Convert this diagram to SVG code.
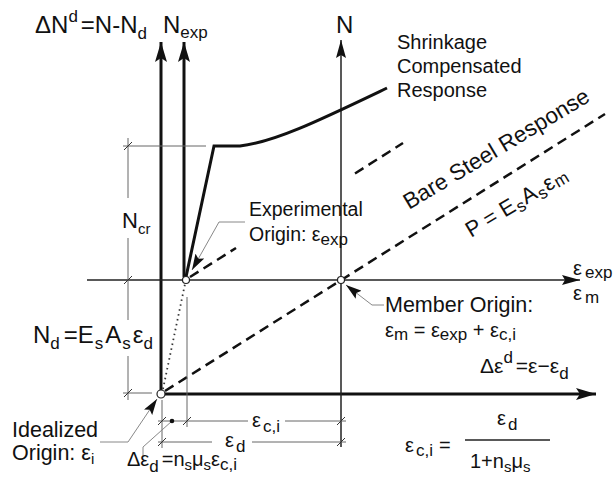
<svg xmlns="http://www.w3.org/2000/svg" width="615" height="487" viewBox="0 0 615 487">
<defs>
<style>
text{font-family:"Liberation Sans",Arial,sans-serif;fill:#111}
.t{font-size:20px}
.big{font-size:24px}
.sb{font-size:17px}
.sm{font-size:15px}
.thick{stroke:#111;stroke-width:3;fill:none}
.thin{stroke:#222;stroke-width:1.5;fill:none}
.dim{stroke:#666;stroke-width:1;fill:none}
.lead{stroke:#888;stroke-width:1;fill:none}
.dash{stroke:#111;stroke-width:2.5;stroke-dasharray:10 6;fill:none}
.dot{stroke:#333;stroke-width:1.8;stroke-dasharray:1.5 3.5;fill:none}
.tick{stroke:#333;stroke-width:1}
.origin{fill:#fff;stroke:#222;stroke-width:1.2}
</style>
<marker id="axB" viewBox="0 0 20 12" refX="20" refY="6" markerWidth="20" markerHeight="12" markerUnits="userSpaceOnUse" orient="auto"><path d="M0,0 L20,6 L0,12 L4,6 Z" fill="#111"/></marker>
<marker id="axS" viewBox="0 0 18 10" refX="18" refY="5" markerWidth="18" markerHeight="10" markerUnits="userSpaceOnUse" orient="auto"><path d="M0,0 L18,5 L0,10 L3,5 Z" fill="#111"/></marker>
<marker id="ld" viewBox="0 0 16 10" refX="16" refY="5" markerWidth="16" markerHeight="10" markerUnits="userSpaceOnUse" orient="auto"><path d="M0,0 L16,5 L0,10 L3,5 Z" fill="#111"/></marker>
</defs>
<rect width="615" height="487" fill="#fff"/>

<g id="connectors">
  <path class="thick" d="M161,394 L161,42" marker-end="url(#axB)"/>
  <path class="thick" d="M184,277 L184,42" marker-end="url(#axB)"/>
  <path class="thick" d="M161,394 L596,394" marker-end="url(#axB)"/>
  <path class="thin" d="M87,280 L580,280" marker-end="url(#axS)"/>
  <path class="thin" d="M341,447 L341,40" marker-end="url(#axS)"/>
  <path class="thick" d="M186,277 L214,146 L240,146 C275,142 320,120 387,88"/>
  <path class="dash" d="M165,391 L605,114"/>
  <path class="dash" d="M190,277 L236,248"/>
  <path class="dash" d="M355,173.5 L403,143"/>
  <path class="dot" d="M163,389 L185,284"/>
  <path class="dim" d="M128,138 L128,198 M128,238 L128,320 M128,356 L128,400"/>
  <path class="dim" d="M123,146 L206,146"/>
  <path class="dim" d="M123,393 L152,393"/>
  <path class="dim" d="M187,297 L187,427"/>
  <path class="dim" d="M162,400 L162,448"/>
  <path class="dim" d="M158,421 L248,421 M285,421 L346,421"/>
  <path class="dim" d="M158,442 L212,442 M252,442 L346,442"/>
  <path class="tick" d="M124,150 L132,142 M124,284 L132,276 M124,397 L132,389 M158,425 L166,417 M183,425 L191,417 M337,425 L345,417 M158,446 L166,438 M337,446 L345,438"/>
  <path class="lead" d="M245,222 L219,222 L192,270" marker-end="url(#ld)"/>
  <path class="lead" d="M384,305 L372,305 L346,285" marker-end="url(#ld)"/>
  <path class="lead" d="M100,442 L128,442 L157,399" marker-end="url(#ld)"/>
  <path class="lead" d="M143,456 L143,447 L172,421"/>
  <circle cx="172" cy="421" r="2.3" fill="#111"/>
</g>

<g id="origin-experimental"><circle class="origin" cx="186" cy="280" r="3.5"/></g>
<g id="origin-member"><circle class="origin" cx="341" cy="280" r="3.5"/></g>
<g id="origin-idealized"><circle class="origin" cx="161" cy="394" r="4"/></g>

<g id="axis-labels">
  <text class="big" x="35" y="33">ΔN<tspan class="sb" dy="-11">d</tspan><tspan dx="3" dy="11">=N-N</tspan><tspan class="sb" dy="6">d</tspan></text>
  <text class="big" x="163" y="33">N<tspan class="sb" dy="5">exp</tspan></text>
  <text class="big" x="336" y="33">N</text>
  <text class="t" x="573" y="275">ε<tspan class="sb" dx="3" dy="3">exp</tspan></text>
  <text class="t" x="573" y="300">ε<tspan class="sb" dx="3" dy="3">m</tspan></text>
</g>

<g id="shrinkage-label">
  <text class="t" x="397" y="49">Shrinkage</text>
  <text class="t" x="397" y="73">Compensated</text>
  <text class="t" x="397" y="97">Response</text>
</g>

<g id="bare-steel-label">
  <text style="font-size:22.5px" transform="translate(409,210) rotate(-31)">Bare Steel Response</text>
  <text style="font-size:22px" transform="translate(471,238) rotate(-31)">P = E<tspan class="sb" dx="1" dy="4">s</tspan><tspan dx="1" dy="-4">A</tspan><tspan class="sb" dx="1" dy="4">s</tspan><tspan dx="1" dy="-4">ε</tspan><tspan class="sb" dx="1" dy="2">m</tspan></text>
</g>

<g id="experimental-origin">
  <text style="font-size:19.5px" x="249" y="216">Experimental</text>
  <text style="font-size:19.5px" x="249" y="241">Origin: ε<tspan class="sb" dy="4">exp</tspan></text>
</g>

<g id="member-origin">
  <text style="font-size:21.5px" x="385" y="312">Member Origin:</text>
  <text class="t" x="385" y="337">ε<tspan class="sb" dy="3">m</tspan><tspan dy="-3"> = ε</tspan><tspan class="sb" dy="3">exp</tspan><tspan dy="-3"> + ε</tspan><tspan class="sb" dy="3">c,i</tspan></text>
  <text style="font-size:21px" x="480" y="373">Δε<tspan class="sb" dy="-10">d</tspan><tspan dx="3" dy="10">=ε−ε</tspan><tspan class="sb" dy="6">d</tspan></text>
</g>

<g id="ncr-label">
  <text style="font-size:22px" x="122" y="228">N<tspan class="sm" dy="6">cr</tspan></text>
</g>

<g id="nd-label">
  <text class="big" x="33" y="343">N<tspan class="sb" dy="6">d</tspan><tspan dx="4" dy="-6">=E</tspan><tspan class="sb" dx="1" dy="6">s</tspan><tspan dx="2" dy="-6">A</tspan><tspan class="sb" dx="1" dy="6">s</tspan><tspan dx="2" dy="-6">ε</tspan><tspan class="sb" dy="6">d</tspan></text>
</g>

<g id="idealized-origin">
  <text style="font-size:21.5px" x="12" y="437">Idealized</text>
  <text style="font-size:21.5px" x="12" y="460">Origin: ε<tspan class="sm" dy="4">i</tspan></text>
</g>

<g id="dimension-labels">
  <text class="t" x="252" y="427">ε<tspan class="sb" dx="2" dy="5">c,i</tspan></text>
  <text class="t" x="225" y="447">ε<tspan class="sb" dx="2" dy="5">d</tspan></text>
  <text class="t" x="127" y="466">Δε<tspan class="sb" dy="6">d</tspan><tspan dx="3" dy="-6">=n</tspan><tspan class="sm" dy="4">s</tspan><tspan dy="-4">μ</tspan><tspan class="sm" dy="4">s</tspan><tspan dy="-4">ε</tspan><tspan class="sb" dy="4">c,i</tspan></text>
</g>

<g id="eci-formula">
  <text class="t" x="405" y="452">ε<tspan class="sb" dx="2" dy="4">c,i</tspan><tspan dx="6" dy="-4">=</tspan></text>
  <line x1="465" y1="440" x2="550" y2="440" stroke="#222" stroke-width="1.5"/>
  <text class="t" x="497" y="425">ε<tspan class="sb" dx="2" dy="5">d</tspan></text>
  <text class="t" x="470" y="468">1+n<tspan class="sm" dy="4">s</tspan><tspan dy="-4">μ</tspan><tspan class="sm" dy="4">s</tspan></text>
</g>
</svg>
